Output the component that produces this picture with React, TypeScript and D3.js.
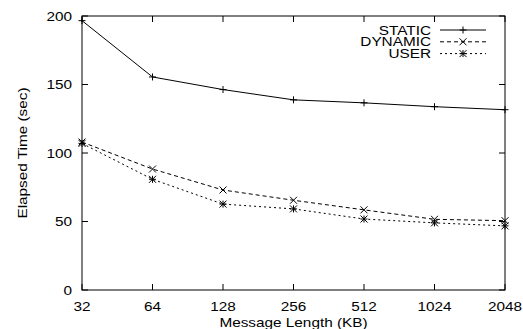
import React, { useEffect, useRef } from 'react';
import * as d3 from 'd3';

const sizes = [32, 64, 128, 256, 512, 1024, 2048];
const staticTimes = [196.6, 155.5, 146.3, 138.8, 136.6, 133.8, 131.6];
const dynamicTimes = [108, 88.3, 73, 65.5, 58.5, 51.6, 50.6];
const userTimes = [107, 80.8, 62.7, 59.2, 51.8, 49, 46.8];
const yTicks = [0, 50, 100, 150, 200];

const series = [
  { name: 'STATIC', values: staticTimes, dash: '', marker: 'plus' },
  { name: 'DYNAMIC', values: dynamicTimes, dash: '4,3', marker: 'cross' },
  { name: 'USER', values: userTimes, dash: '2,3', marker: 'star' },
];

const W = 523;
const H = 329;
const margin = { top: 16, right: 18, bottom: 39, left: 82 };
const font = 'Liberation Sans, Arial, Helvetica, sans-serif';
const stretch = 1.18; // the postscript font is wider than Liberation Sans

// gnuplot-ish point glyphs
function markerPath(kind: string, x: number, y: number) {
  const r = 3.5;
  const plus = `M${x - r},${y}H${x + r}M${x},${y - r}V${y + r}`;
  const cross = `M${x - r},${y - r}L${x + r},${y + r}M${x - r},${y + r}L${x + r},${y - r}`;
  if (kind === 'plus') return plus;
  if (kind === 'cross') return cross;
  return plus + cross;
}

const App: React.FC = () => {
  const svgRef = useRef<SVGSVGElement>(null);

  useEffect(() => {
    if (!svgRef.current) return;
    const svg = d3.select(svgRef.current);
    svg.selectAll('*').remove();

    const x = d3.scaleLog().base(2).domain([32, 2048]).range([margin.left, W - margin.right]);
    const y = d3.scaleLinear().domain([0, 200]).range([H - margin.bottom, margin.top]);
    const [x0, x1] = x.range();
    const [y0, y1] = y.range();

    const g = svg.append('g');

    const label = (tx: number, ty: number, txt: string, anchor: string, rot = 0) =>
      g.append('text')
        .attr('transform', `translate(${tx},${ty})${rot ? ` rotate(${rot})` : ''} scale(${stretch},1)`)
        .attr('text-anchor', anchor).attr('font-family', font).attr('font-size', 13)
        .text(txt);

    // frame
    g.append('rect')
      .attr('x', x0).attr('y', y1)
      .attr('width', x1 - x0).attr('height', y0 - y1)
      .attr('fill', 'none').attr('stroke', '#000').attr('stroke-width', 1);

    const tl = 6;
    // x ticks (bottom and mirrored on top)
    sizes.forEach(s => {
      const px = x(s);
      g.append('path').attr('d', `M${px},${y0}V${y0 - tl}M${px},${y1}V${y1 + tl}`)
        .attr('stroke', '#000').attr('stroke-width', 1);
      label(px, y0 + 21, String(s), 'middle');
    });

    // y ticks
    yTicks.forEach(t => {
      const py = y(t);
      g.append('path').attr('d', `M${x0},${py}H${x0 + tl}M${x1},${py}H${x1 - tl}`)
        .attr('stroke', '#000').attr('stroke-width', 1);
      label(x0 - 10, py + 4.6, String(t), 'end');
    });

    // axis titles
    label((x0 + x1) / 2, H - 2, 'Message Length (KB)', 'middle');
    label(27, (y0 + y1) / 2, 'Elapsed Time (sec)', 'middle', -90);

    const line = d3.line<number>()
      .x((_, i) => x(sizes[i]))
      .y(d => y(d));

    series.forEach((s, si) => {
      g.append('path').datum(s.values)
        .attr('d', line)
        .attr('fill', 'none').attr('stroke', '#000').attr('stroke-width', 1)
        .attr('stroke-dasharray', s.dash || null);
      g.append('path')
        .attr('d', s.values.map((v, i) => markerPath(s.marker, x(sizes[i]), y(v))).join(''))
        .attr('fill', 'none').attr('stroke', '#000').attr('stroke-width', 1);

      // legend row
      const ly = 30 + si * 11.8;
      label(431, ly + 4.5, s.name, 'end');
      g.append('path').attr('d', `M440,${ly}H486`)
        .attr('stroke', '#000').attr('stroke-width', 1)
        .attr('stroke-dasharray', s.dash || null);
      g.append('path').attr('d', markerPath(s.marker, 463, ly))
        .attr('fill', 'none').attr('stroke', '#000').attr('stroke-width', 1);
    });
  }, []);

  return (
    <svg ref={svgRef} width={W} height={H}
      style={{ position: 'absolute', left: 0, top: 0, background: '#fff' }} />
  );
};

export default App;
